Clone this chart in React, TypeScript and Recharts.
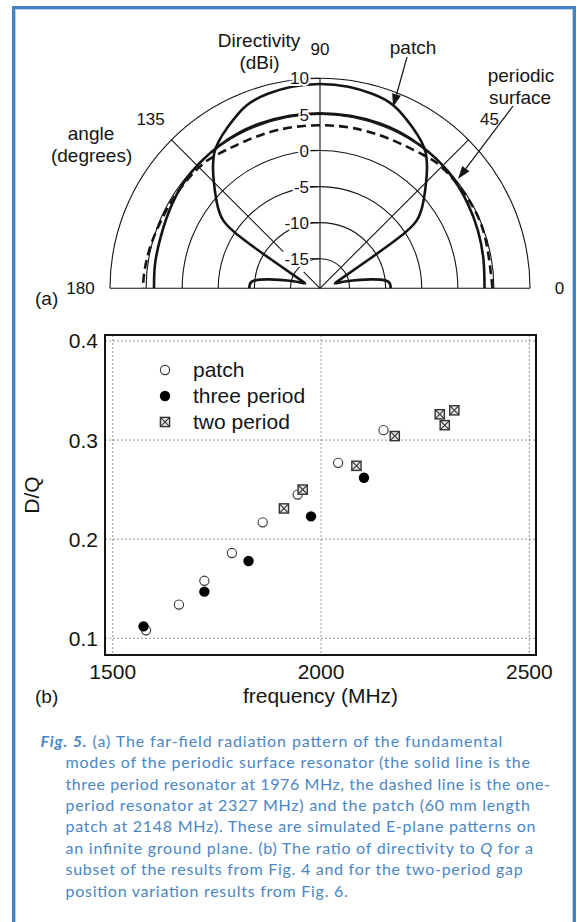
import React from 'react';
import {
  LineChart, Line, XAxis, YAxis, ReferenceLine, ReferenceDot,
  ScatterChart, Scatter, CartesianGrid, ReferenceArea, Legend,
} from 'recharts';

const FONT = '"Liberation Sans", Arial, Helvetica, sans-serif';
const CAPTION_FONT = 'Lato, "Open Sans", sans-serif';
const BLUE = '#4a86c4';
const INK = '#141414';

// ---------------- (a) far-field pattern (angle in degrees, directivity in dBi) ----------------
const CENTER_DB = -19.1;
const OUTER_DB = 10;
const RING_DB = [-15, -10, -5, 0, 5, 10];
const RING_LABELS = ['-15', '-10', '-5', '0', '5', '10'];
const ANGLE_TICKS = [0, 45, 90, 135, 180];
const ANGLE_LABELS = ['0', '45', '90', '135', '180'];

// patch (60 mm, 2148 MHz): right small lobe, main lobe, left small lobe
const PATCH_LOBE_R_ANG = [0, 3, 6.5, 10, 14, 18];
const PATCH_LOBE_R_DB = [-9.3, -9.35, -9.85, -12.0, -14.8, -16.9];
const PATCH_MAIN_ANG = [18, 23, 30, 32.5, 35, 40, 45, 52, 60, 68, 75, 82, 90, 98, 105, 112, 120, 128, 135, 140, 145, 147.5, 150, 157, 162];
const PATCH_MAIN_DB = [-16.9, -16.2, -12.1, -6.6, -2.75, -0.4, 1.7, 4.7, 6.6, 8.2, 8.8, 9.1, 9.2, 9.1, 8.8, 8.2, 6.6, 4.7, 1.7, -0.4, -2.75, -6.6, -12.1, -16.2, -16.9];
const PATCH_LOBE_L_ANG = [162, 166, 170, 173.5, 177, 180];
const PATCH_LOBE_L_DB = [-16.9, -14.8, -12.0, -9.85, -9.35, -9.3];

// three period resonator (1976 MHz), solid
const THREE_ANG = [0, 10, 20, 30, 42, 55, 70, 90, 110, 125, 138, 150, 162, 172, 180];
const THREE_DB = [3.7, 3.9, 4.2, 4.5, 4.9, 5.1, 5.2, 5.15, 5.2, 5.1, 4.9, 4.5, 4.1, 4.0, 3.9];

// one period resonator (2327 MHz), dashed
const ONE_ANG = [0, 20, 35, 45, 52, 62, 75, 90, 105, 118, 128, 135, 145, 155, 166, 175, 180];
const ONE_DB = [4.8, 4.9, 4.8, 4.7, 4.3, 3.8, 3.6, 3.5, 3.6, 3.8, 4.3, 4.6, 4.7, 4.8, 5.1, 5.35, 5.4];

// ---------------- (b) D/Q vs frequency ----------------
const PATCH_F = [1580, 1659, 1720, 1786, 1860, 1944, 2041, 2150];
const PATCH_DQ = [0.108, 0.134, 0.158, 0.186, 0.217, 0.245, 0.277, 0.310];
const THREE_F = [1574, 1720, 1826, 1976, 2103];
const THREE_DQ = [0.112, 0.147, 0.178, 0.223, 0.262];
const TWO_F = [1911, 1956, 2085, 2177, 2285, 2297, 2320];
const TWO_DQ = [0.231, 0.250, 0.274, 0.304, 0.326, 0.315, 0.330];
const X_TICKS = [1500, 2000, 2500];
const Y_TICKS = [0.1, 0.2, 0.3, 0.4];
const X_DOMAIN: [number, number] = [1481.5, 2516];
const Y_DOMAIN: [number, number] = [0.0831, 0.406];

// ---------------- caption ----------------
type Seg = { t: string; b?: boolean; i?: boolean };
const CAPTION: Seg[][] = [
  [{ t: 'Fig. 5.', b: true, i: true }, { t: ' (a) The far-field radiation pattern of the fundamental' }],
  [{ t: 'modes of the periodic surface resonator (the solid line is the' }],
  [{ t: 'three period resonator at 1976 MHz, the dashed line is the one-' }],
  [{ t: 'period resonator at 2327 MHz) and the patch (60 mm length' }],
  [{ t: 'patch at 2148 MHz). These are simulated E-plane patterns on' }],
  [{ t: 'an infinite ground plane. (b) The ratio of directivity to ' }, { t: 'Q', i: true }, { t: ' for a' }],
  [{ t: 'subset of the results from Fig. 4 and for the two-period gap' }],
  [{ t: 'position variation results from Fig. 6.' }],
];
const CAPTION_X = [40.5, 65.5, 65.5, 65.5, 65.5, 65.5, 65.5, 65.5];
const CAPTION_W = [461.8, 464.5, 484.5, 464.5, 469.9, 467.4, 457.1, 282.3];

// ---------------- helpers ----------------
const R_OUT = OUTER_DB - CENTER_DB;
const polar = (ang: number, rad: number) => ({
  x: +(rad * Math.cos((ang * Math.PI) / 180)).toFixed(4),
  y: +(rad * Math.sin((ang * Math.PI) / 180)).toFixed(4),
});
const curve = (angs: number[], dbs: number[]) => angs.map((a, i) => polar(a, dbs[i] - CENTER_DB));
const pts = (xs: number[], ys: number[]) => xs.map((f, i) => ({ f, v: ys[i] }));

const ok = (...v: any[]) => v.every((n) => typeof n === 'number' && !isNaN(n));

const ringShape = (p: any) => {
  const { x1, y1, x2, y2 } = p;
  if (!ok(x1, y1, x2, y2)) return <g />;
  const r = (x2 - x1) / 2;
  return <path d={`M${x1},${y1}A${r},${r} 0 0 1 ${x2},${y2}`} fill="none" stroke={INK} strokeWidth={1.1} />;
};

const arrowShape = (p: any) => {
  const { x1, y1, x2, y2 } = p;
  if (!ok(x1, y1, x2, y2)) return <g />;
  const dx = x2 - x1, dy = y2 - y1, len = Math.hypot(dx, dy);
  const ux = dx / len, uy = dy / len;
  const bx = x2 - ux * 13, by = y2 - uy * 13;
  const nx = -uy * 4.5, ny = ux * 4.5;
  return (
    <g>
      <line x1={x1} y1={y1} x2={bx} y2={by} stroke={INK} strokeWidth={1.2} />
      <polygon points={`${x2},${y2} ${bx + nx},${by + ny} ${bx - nx},${by - ny}`} fill={INK} />
    </g>
  );
};

const textShape = (text: string, size: number, anchor: 'start' | 'middle' | 'end' = 'middle') => (p: any) =>
  ok(p.cx, p.cy) ? (
    <text x={p.cx} y={p.cy} dy="0.36em" textAnchor={anchor} fontSize={size} fontFamily={FONT} fill={INK}>
      {text}
    </text>
  ) : (
    <g />
  );

const radialLabelShape = (text: string) => (p: any) =>
  ok(p.cx, p.cy) ? (
    <g>
      <line x1={p.cx - 10} x2={p.cx} y1={p.cy} y2={p.cy} stroke={INK} strokeWidth={1.1} />
      <text
        x={p.cx - 11}
        y={p.cy}
        dy="0.36em"
        textAnchor="end"
        fontSize={17}
        fontFamily={FONT}
        fill={INK}
        stroke="#fff"
        strokeWidth={4}
        paintOrder="stroke"
      >
        {text}
      </text>
    </g>
  ) : (
    <g />
  );

const POLAR_NOTES = [
  { text: 'Directivity', x: -8.45, y: 34.41 },
  { text: '(dBi)', x: -8.38, y: 31.36 },
  { text: 'patch', x: 12.89, y: 33.48 },
  { text: 'periodic', x: 27.85, y: 29.56 },
  { text: 'surface', x: 27.72, y: 26.55 },
  { text: 'angle', x: -31.73, y: 21.48 },
  { text: '(degrees)', x: -31.65, y: 18.47 },
];
const ARROWS = [
  { from: { x: 12.06, y: 32.05 }, to: { x: 10.12, y: 25.12 } },
  { from: { x: 26.75, y: 25.26 }, to: { x: 19.12, y: 15.15 } },
];
const ANGLE_LABEL_R = 33.2;

const PolarPanel = () => {
  const curveProps = { dataKey: 'y', type: 'natural' as const, dot: false, activeDot: false, isAnimationActive: false, stroke: INK };
  return (
    <LineChart width={577} height={310} margin={{ top: 78.3, right: 47, bottom: 21.7, left: 110 }}>
      <XAxis type="number" dataKey="x" domain={[-R_OUT, R_OUT]} allowDataOverflow hide />
      <YAxis type="number" domain={[0, R_OUT]} allowDataOverflow hide />
      {RING_DB.map((db) => {
        const r = db - CENTER_DB;
        return (
          <ReferenceLine key={`ring${db}`} segment={[{ x: -r, y: 0 }, { x: r, y: 0 }]} ifOverflow="visible" shape={ringShape} />
        );
      })}
      <ReferenceLine segment={[{ x: -R_OUT, y: 0 }, { x: R_OUT, y: 0 }]} ifOverflow="visible" stroke={INK} strokeWidth={1.1} />
      <ReferenceLine segment={[{ x: 0, y: 0 }, { x: 0, y: R_OUT }]} ifOverflow="visible" stroke={INK} strokeWidth={1.1} />
      <ReferenceLine segment={[polar(45, 0), polar(45, R_OUT)]} ifOverflow="visible" stroke={INK} strokeWidth={1.1} />
      <ReferenceLine segment={[polar(135, 0), polar(135, 3.2)]} ifOverflow="visible" stroke={INK} strokeWidth={1.1} />
      <ReferenceLine segment={[polar(135, 7.2), polar(135, R_OUT)]} ifOverflow="visible" stroke={INK} strokeWidth={1.1} />
      {RING_DB.map((db, i) => (
        <ReferenceDot key={`rl${db}`} x={0} y={db - CENTER_DB} ifOverflow="visible" shape={radialLabelShape(RING_LABELS[i])} />
      ))}
      {ANGLE_TICKS.map((a, i) => {
        const p = polar(a, ANGLE_LABEL_R);
        return <ReferenceDot key={`al${a}`} x={p.x} y={p.y} ifOverflow="visible" shape={textShape(ANGLE_LABELS[i], 17)} />;
      })}
      {POLAR_NOTES.map((n) => (
        <ReferenceDot key={n.text} x={n.x} y={n.y} ifOverflow="visible" shape={textShape(n.text, 19)} />
      ))}
      <Line data={curve(ONE_ANG, ONE_DB)} {...curveProps} strokeWidth={2.6} strokeDasharray="9 5" />
      <Line data={curve(THREE_ANG, THREE_DB)} {...curveProps} strokeWidth={2.6} />
      <Line data={curve(PATCH_LOBE_R_ANG, PATCH_LOBE_R_DB)} {...curveProps} strokeWidth={2.6} />
      <Line data={curve(PATCH_MAIN_ANG, PATCH_MAIN_DB)} {...curveProps} strokeWidth={2.6} />
      <Line data={curve(PATCH_LOBE_L_ANG, PATCH_LOBE_L_DB)} {...curveProps} strokeWidth={2.6} />
      {ARROWS.map((a, i) => (
        <ReferenceLine key={`ar${i}`} segment={[a.from, a.to]} ifOverflow="visible" shape={arrowShape} />
      ))}
    </LineChart>
  );
};

// ---------------- (b) scatter ----------------
const OpenCircle = (p: any) => <circle cx={p.cx} cy={p.cy} r={4.6} fill="#fff" stroke="#333" strokeWidth={1.1} />;
const FilledCircle = (p: any) => <circle cx={p.cx} cy={p.cy} r={5.2} fill="#000" />;
const BoxX = (p: any) => {
  const s = 4.6, cx = p.cx, cy = p.cy;
  return (
    <g>
      <rect x={cx - s} y={cy - s} width={2 * s} height={2 * s} fill="#e6e6e6" stroke="#333" strokeWidth={1.4} />
      <path d={`M${cx - s} ${cy - s}L${cx + s} ${cy + s}M${cx + s} ${cy - s}L${cx - s} ${cy + s}`} stroke="#333" strokeWidth={1.1} />
    </g>
  );
};

const SERIES = [
  { name: 'patch', data: pts(PATCH_F, PATCH_DQ), shape: OpenCircle },
  { name: 'three period', data: pts(THREE_F, THREE_DQ), shape: FilledCircle },
  { name: 'two period', data: pts(TWO_F, TWO_DQ), shape: BoxX },
];

const LegendBox = () => (
  <div style={{ fontFamily: FONT, fontSize: 21, color: INK }}>
    {SERIES.map((s) => (
      <div key={s.name} style={{ display: 'flex', alignItems: 'center', height: 26 }}>
        <svg width={30} height={26} style={{ display: 'block' }}>
          {s.shape({ cx: 15, cy: 13 })}
        </svg>
        <span style={{ marginLeft: 13, lineHeight: '26px', whiteSpace: 'nowrap' }}>{s.name}</span>
      </div>
    ))}
  </div>
);

const axisTick = { fontSize: 21, fill: INK, fontFamily: FONT };
const inwardTick = { stroke: INK, strokeWidth: 1.5 };

const ScatterPanel = () => (
  <ScatterChart width={577} height={410} margin={{ top: 25, right: 41, bottom: 35, left: 10 }}>
    <CartesianGrid xAxisId="b" yAxisId="l" stroke="#8a8a8a" strokeDasharray="2 2" strokeWidth={0.9} />
    <XAxis
      xAxisId="b" type="number" dataKey="f" domain={X_DOMAIN} ticks={X_TICKS} allowDataOverflow
      axisLine={false} tickLine={false} tickSize={6} tickMargin={3} height={30} tick={axisTick}
      label={{ value: 'frequency (MHz)', position: 'bottom', offset: 3, fontSize: 21, fill: INK, fontFamily: FONT }}
    />
    <XAxis xAxisId="bm" orientation="bottom" mirror type="number" dataKey="f" domain={X_DOMAIN} ticks={X_TICKS} allowDataOverflow axisLine={false} tick={false} tickLine={inwardTick} tickSize={14} />
    <XAxis xAxisId="t" orientation="top" mirror type="number" dataKey="f" domain={X_DOMAIN} ticks={X_TICKS} allowDataOverflow axisLine={false} tick={false} tickLine={inwardTick} tickSize={10} />
    <YAxis
      yAxisId="l" type="number" dataKey="v" domain={Y_DOMAIN} ticks={Y_TICKS} allowDataOverflow
      axisLine={false} tickLine={false} tickSize={4} tickMargin={3} width={95} tick={axisTick}
      tickFormatter={(v: number) => v.toFixed(1)}
      label={{ value: 'D/Q', angle: -90, position: 'insideLeft', offset: 22, fontSize: 21, fill: INK, fontFamily: FONT, style: { textAnchor: 'middle' } }}
    />
    <YAxis yAxisId="lm" orientation="left" mirror type="number" dataKey="v" domain={Y_DOMAIN} ticks={Y_TICKS} allowDataOverflow axisLine={false} tick={false} tickLine={inwardTick} tickSize={10} />
    <YAxis yAxisId="r" orientation="right" mirror type="number" dataKey="v" domain={Y_DOMAIN} ticks={Y_TICKS} allowDataOverflow axisLine={false} tick={false} tickLine={inwardTick} tickSize={10} />
    <ReferenceArea xAxisId="b" yAxisId="l" x1={X_DOMAIN[0]} x2={X_DOMAIN[1]} y1={Y_DOMAIN[0]} y2={Y_DOMAIN[1]} ifOverflow="visible" fill="none" fillOpacity={0} stroke={INK} strokeWidth={2} />
    {SERIES.map((s) => (
      <Scatter key={s.name} name={s.name} xAxisId="b" yAxisId="l" data={s.data} shape={s.shape} isAnimationActive={false} />
    ))}
    <Legend layout="vertical" align="center" verticalAlign="middle" wrapperStyle={{ left: 150, top: 47, width: 220, height: 80 }} content={() => <LegendBox />} />
  </ScatterChart>
);

const Caption = () => (
  <svg width={577} height={202} style={{ position: 'absolute', left: 0, top: 720 }}>
    {CAPTION.map((line, i) => (
      <text
        key={i}
        x={CAPTION_X[i]}
        y={26.7 + i * 21.4}
        textLength={CAPTION_W[i]}
        lengthAdjust="spacing"
        fontFamily={CAPTION_FONT}
        fontSize={16}
        fill={BLUE}
        style={{ whiteSpace: 'pre' }}
      >
        {line.map((s, j) => (
          <tspan key={j} fontWeight={s.b ? 700 : 400} fontStyle={s.i ? 'italic' : 'normal'}>
            {s.t}
          </tspan>
        ))}
      </text>
    ))}
  </svg>
);

export default function App() {
  return (
    <div style={{ position: 'absolute', left: 0, top: 0, width: 577, height: 922, background: '#fff', overflow: 'hidden' }}>
      <div
        style={{
          position: 'absolute', left: 12, top: 6, width: 564, height: 940, boxSizing: 'border-box',
          border: '3px solid #4682bf', borderBottom: 'none',
          boxShadow: 'inset 1px 1px 0 #b3cde8, inset -1px 0 0 #b3cde8',
        }}
      />
      <div style={{ position: 'absolute', left: 0, top: 0 }}>
        <PolarPanel />
      </div>
      <div style={{ position: 'absolute', left: 0, top: 310 }}>
        <ScatterPanel />
      </div>
      <div style={{ position: 'absolute', left: 35, top: 287, fontFamily: FONT, fontSize: 19, color: INK, lineHeight: '24px' }}>(a)</div>
      <div style={{ position: 'absolute', left: 35, top: 685, fontFamily: FONT, fontSize: 19, color: INK, lineHeight: '24px' }}>(b)</div>
      <Caption />
    </div>
  );
}
